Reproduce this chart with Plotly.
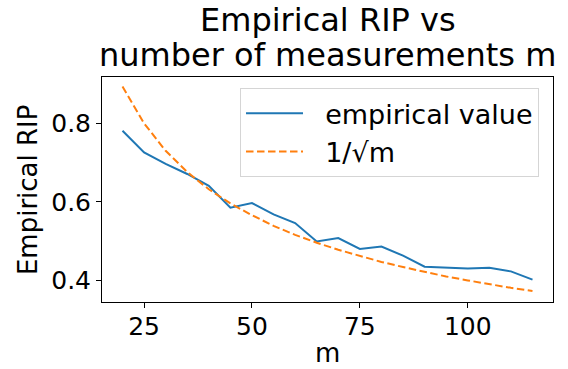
import plotly.graph_objects as go

m_values = [20, 25, 30, 35, 40, 45, 50, 55, 60, 65, 70, 75, 80, 85, 90, 95, 100, 105, 110, 115]
empirical = [0.781, 0.726, 0.697, 0.671, 0.641, 0.585, 0.597, 0.568, 0.546, 0.499,
             0.508, 0.480, 0.486, 0.463, 0.435, 0.432, 0.430, 0.432, 0.423, 0.402]
reference = [0.894, 0.800, 0.730, 0.676, 0.632, 0.596, 0.566, 0.539, 0.516, 0.496,
             0.478, 0.462, 0.447, 0.434, 0.422, 0.410, 0.400, 0.390, 0.381, 0.373]
series_names = ["empirical value", "1/√m"]
x_ticks = [25, 50, 75, 100]
y_ticks = [0.4, 0.6, 0.8]

FONT = "DejaVu Sans"
PAD = "\u00a0\u00a0"

fig = go.Figure()
fig.add_trace(go.Scatter(x=m_values, y=empirical, mode="lines", name=PAD + series_names[0],
                         line=dict(color="#1f77b4", width=2)))
fig.add_trace(go.Scatter(x=m_values, y=reference, mode="lines", name=PAD + series_names[1],
                         line=dict(color="#ff7f0e", width=2, dash="7.5px,3.5px")))

axis_common = dict(showline=True, linecolor="black", linewidth=1, mirror=True,
                   showgrid=False, zeroline=False, ticks="outside", ticklen=5,
                   tickwidth=1, tickcolor="black",
                   tickfont=dict(family=FONT, size=25, color="black"))

fig.update_layout(
    width=568, height=369,
    margin=dict(l=102, r=15, t=77, b=67),
    paper_bgcolor="white", plot_bgcolor="white",
    font=dict(family=FONT, color="black"),
    xaxis=dict(range=[15.25, 119.75], tickvals=x_ticks, ticklabelstandoff=-3, **axis_common),
    yaxis=dict(range=[0.345, 0.918], tickvals=y_ticks, tickformat=".1f", **axis_common),
    legend=dict(x=0.969, y=0.95, xanchor="right", yanchor="top",
                itemwidth=57,
                bgcolor="rgba(255,255,255,0.8)", bordercolor="#d5d5d5", borderwidth=1,
                font=dict(family=FONT, size=27, color="black")),
    showlegend=True,
)

annotations = [
    dict(text="Empirical RIP vs", x=0.5, y=1.2533, font=dict(size=32)),
    dict(text="number of measurements m", x=0.5, y=1.0978, font=dict(size=32)),
    dict(text="m", x=0.5, y=-0.226, font=dict(size=26)),
    dict(text="Empirical RIP", x=-0.165, y=0.5, textangle=-90, font=dict(size=26)),
]
for a in annotations:
    fig.add_annotation(xref="paper", yref="paper", showarrow=False,
                       xanchor="center", yanchor="middle",
                       font=dict(family=FONT, size=a["font"]["size"], color="black"),
                       text=a["text"], x=a["x"], y=a["y"],
                       textangle=a.get("textangle", 0))

fig.write_html("out.html", config={"displayModeBar": False},
               post_script="document.body.style.margin='0px';document.body.style.overflow='hidden';")
